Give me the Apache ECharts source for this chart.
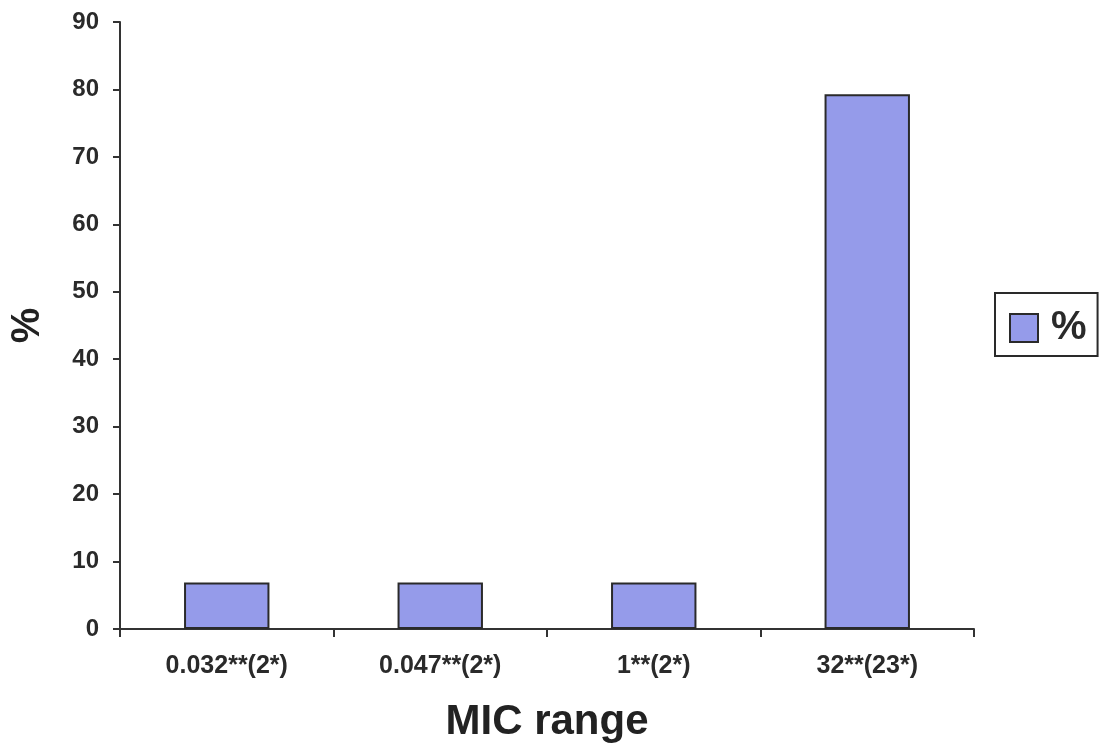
<!DOCTYPE html>
<html><head><meta charset="utf-8">
<script src="https://cdn.jsdelivr.net/npm/echarts@6/dist/echarts.min.js"></script>
<style>html,body{margin:0;padding:0;background:#fff}#c{width:1103px;height:752px}</style>
</head><body><div id="c"></div>
<script>
const categories = ['0.032**(2*)', '0.047**(2*)', '1**(2*)', '32**(23*)'];
const percentValues = [6.9, 6.9, 6.9, 79.3];
const seriesName = '%';

const chart = echarts.init(document.getElementById('c'));
const ff = 'Liberation Sans, Arial, sans-serif';
chart.setOption({
  backgroundColor: '#fff',
  animation: false,
  grid: { left: 120, right: 129, top: 22, bottom: 123, containLabel: false, outerBoundsMode: 'none' },
  legend: {
    left: 995, top: 293, orient: 'vertical',
    data: [{ name: seriesName, icon: 'rect' }],
    itemWidth: 28, itemHeight: 28, itemGap: 10,
    padding: [15, 11, 8, 14],
    borderColor: '#2a2a2a', borderWidth: 2,
    itemStyle: { borderColor: '#2a2a2a', borderWidth: 2 },
    textStyle: { fontFamily: ff, fontSize: 40, fontWeight: 'bold', color: '#2a2a2a', padding: [0, 0, 0, 8] }
  },
  xAxis: {
    type: 'category', data: categories,
    name: 'MIC range', nameLocation: 'middle', nameGap: 72,
    nameTextStyle: { fontFamily: ff, fontSize: 42, fontWeight: 'bold', color: '#222' },
    axisLine: { lineStyle: { color: '#333', width: 2 } },
    axisTick: { show: true, alignWithLabel: false, length: 8, lineStyle: { color: '#333', width: 2 } },
    axisLabel: { fontFamily: ff, fontSize: 25, fontWeight: 'bold', color: '#2a2a2a', margin: 25 }
  },
  yAxis: {
    type: 'value', min: 0, max: 90, interval: 10,
    name: '%', nameLocation: 'middle', nameGap: 72, nameRotate: 90,
    nameTextStyle: { fontFamily: ff, fontSize: 40, fontWeight: 'bold', color: '#222' },
    axisLine: { show: true, lineStyle: { color: '#333', width: 2 } },
    axisTick: { show: true, length: 7, lineStyle: { color: '#333', width: 2 } },
    splitLine: { show: false },
    axisLabel: { fontFamily: ff, fontSize: 24, fontWeight: 'bold', color: '#2a2a2a', margin: 21 }
  },
  series: [{
    name: seriesName, type: 'bar', data: percentValues, barWidth: '40%',
    itemStyle: { color: '#959bea', borderColor: '#2a2a2a', borderWidth: 2 }
  }]
});
</script></body></html>
